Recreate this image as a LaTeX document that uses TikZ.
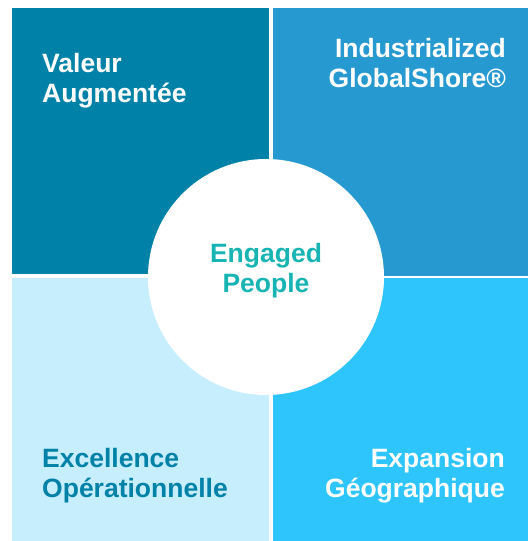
\documentclass[tikz,border=0pt]{standalone}
\usepackage{fontspec}
\setmainfont{Liberation Sans}
\usepackage{xcolor}

\definecolor{tealdark}{HTML}{0082A8}
\definecolor{bluemid}{HTML}{2799D1}
\definecolor{bluepale}{HTML}{C6EEFD}
\definecolor{bluebright}{HTML}{2EC5FD}
\definecolor{tealgreen}{HTML}{18B4B4}

\tikzset{
    label text/.style={font=\bfseries\fontsize{26.5}{30.5}\selectfont, inner sep=0pt},
}

\begin{document}
\begin{tikzpicture}[x=1pt, y=-1pt]
        % Define the radius of the centre disc
        \def\rad{118}
        \useasboundingbox (0,0) rectangle (528,541);

        % Corners of the four blocks
        \coordinate (TL_1) at (12, 8);
        \coordinate (TL_2) at (269, 274);
        \coordinate (TR_1) at (273, 8);
        \coordinate (TR_2) at (528, 276);
        \coordinate (BL_1) at (12, 278);
        \coordinate (BL_2) at (269, 541);
        \coordinate (BR_1) at (273, 278);
        \coordinate (BR_2) at (528, 541);
        \coordinate (O) at (266, 277); % Center of the disc

        % Draw the blocks
        \fill[tealdark] (TL_1) rectangle (TL_2);
        \fill[bluemid] (TR_1) rectangle (TR_2);
        \fill[bluepale] (BL_1) rectangle (BL_2);
        \fill[bluebright] (BR_1) rectangle (BR_2);

        % Draw the disc on top
        \fill[white] (O) circle (\rad);

        % Label the blocks
        \node[label text, white, anchor=north west, align=left] (valeur) at (42, 53) {Valeur\\Augmentée};
        \node[label text, white, anchor=north east, align=right] (globalshore) at (506, 38) {Industrialized\\GlobalShore®};
        \node[label text, tealdark, anchor=north west, align=left] (excellence) at (42, 448) {Excellence\\Opérationnelle};
        \node[label text, white, anchor=north east, align=right] (expansion) at (505, 448) {Expansion\\Géographique};

        \node[label text, tealgreen, anchor=north, align=center] (people) at (266, 243) {Engaged\\People};
    \end{tikzpicture}
\end{document}
